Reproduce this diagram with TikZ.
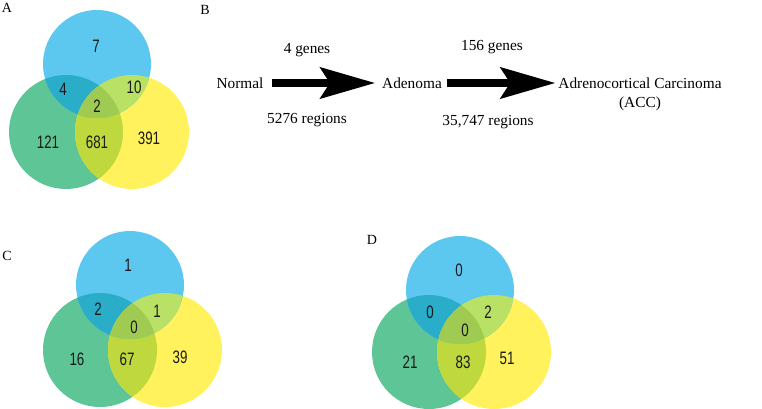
\documentclass[tikz,border=0pt]{standalone}
\usepackage{fontspec}
\setmainfont{Liberation Serif}
\newfontfamily\numfont{Liberation Sans}
\usetikzlibrary{arrows.meta, positioning}

\definecolor{vblue}{HTML}{5CC8F0}
\definecolor{vgreen}{HTML}{5EC596}
\definecolor{vyellow}{HTML}{FFF25C}
\definecolor{vbluegreen}{HTML}{2AADC8}
\definecolor{vblueyellow}{HTML}{B9E166}
\definecolor{vgreenyellow}{HTML}{BED83E}
\definecolor{vall}{HTML}{9FCB52}

% three circles: blue, green, yellow centres
\newcommand{\threeset}[3]{%
  \fill[vgreen] (#2) circle[radius=57];
  \fill[vyellow] (#3) circle[radius=57];
  \fill[vblue] (#1) circle[radius=54];
  \begin{scope}
    \clip (#2) circle[radius=57];
    \fill[vgreenyellow] (#3) circle[radius=57];
  \end{scope}
  \begin{scope}
    \clip (#1) circle[radius=54];
    \fill[vbluegreen] (#2) circle[radius=57];
    \fill[vblueyellow] (#3) circle[radius=57];
    \clip (#2) circle[radius=57];
    \fill[vall] (#3) circle[radius=57];
  \end{scope}}
% tall digits of the counts
\newcommand{\cnt}[1]{\scalebox{1}[1.35]{#1}}

\begin{document}
\begin{tikzpicture}[x=0.75pt, y=-0.75pt,
    num/.style={font=\numfont\fontsize{10}{12}\selectfont, text=black!90},
    txt/.style={font=\fontsize{11.5}{13}\selectfont, inner sep=2pt},
    panel/.style={font=\fontsize{10.5}{12}\selectfont},
    bigarrow/.style={line width=6.5pt, -{Stealth[length=41pt, width=23pt, inset=7pt]}}]
    \useasboundingbox (0,0) rectangle (762,409);

    % A
    \node[panel] (labA) at (7,8) {A};
    \threeset{97,64}{66,132}{132,132}
    \node[num] (a1) at (96,46) {\cnt{7}};
    \node[num] (a2) at (63,89) {\cnt{4}};
    \node[num] (a3) at (134,87) {\cnt{10}};
    \node[num] (a4) at (97,106) {\cnt{2}};
    \node[num] (a5) at (48,142) {\cnt{121}};
    \node[num] (a6) at (97,142) {\cnt{681}};
    \node[num] (a7) at (149,138) {\cnt{391}};

    % B
    \node[panel] (labB) at (205,10) {B};
    \node[txt] (normal) at (240,83) {Normal};
    \node[txt] (adenoma) at (412,83) {Adenoma};
    \node[txt] (acc) at (640,83) {Adrenocortical Carcinoma};
    \node[txt] (accabbr) [below=2pt of acc] {(ACC)};
    \node[txt] (genes1) at (307,50) {4 genes};
    \node[txt] (regions1) at (307,120) {5276 regions};
    \node[txt] (genes2) at (492,47) {156 genes};
    \node[txt] (regions2) at (488,122) {35,747 regions};
    \draw[bigarrow, shorten <=4pt, shorten >=3pt] (normal) -- (adenoma);
    \draw[bigarrow, shorten <=2pt] (adenoma) -- (acc);

    % C
    \node[panel] (labC) at (7,256) {C};
    \threeset{130,285}{100,350}{165,350}
    \node[num] (c1) at (128,265) {\cnt{1}};
    \node[num] (c2) at (98,309) {\cnt{2}};
    \node[num] (c3) at (157,311) {\cnt{1}};
    \node[num] (c4) at (134,327) {\cnt{0}};
    \node[num] (c5) at (77,359) {\cnt{16}};
    \node[num] (c6) at (127,359) {\cnt{67}};
    \node[num] (c7) at (180,357) {\cnt{39}};

    % D
    \node[panel] (labD) at (372,240) {D};
    \threeset{460,290}{429,352}{494,352}
    \node[num] (d1) at (459,270) {\cnt{0}};
    \node[num] (d2) at (430,312) {\cnt{0}};
    \node[num] (d3) at (488,312) {\cnt{2}};
    \node[num] (d4) at (465,330) {\cnt{0}};
    \node[num] (d5) at (410,362) {\cnt{21}};
    \node[num] (d6) at (463,362) {\cnt{83}};
    \node[num] (d7) at (507,358) {\cnt{51}};
\end{tikzpicture}
\end{document}
